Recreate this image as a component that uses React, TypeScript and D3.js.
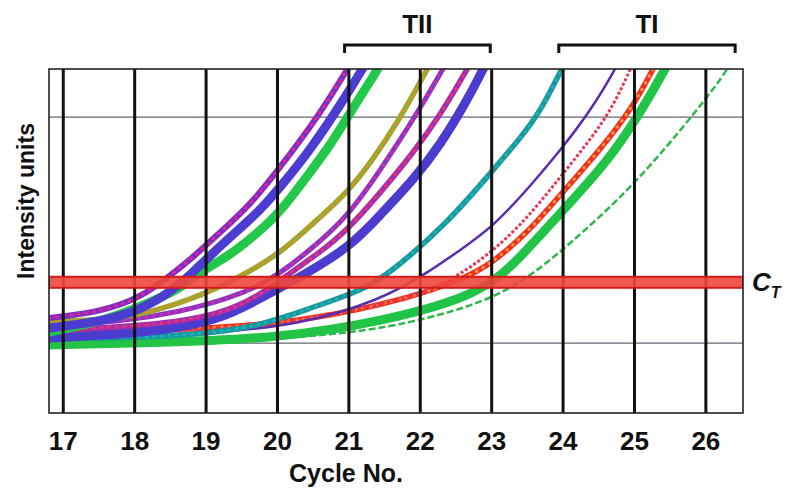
import React, { useRef, useEffect } from "react";
import * as d3 from "d3";

// cycle numbers on the x axis
const cycleTicks = [17, 18, 19, 20, 21, 22, 23, 24, 25, 26];

// horizontal reference lines and threshold (intensity units, 0-100)
const refLines = [20.3, 86];
const threshold = 38;

// amplification curves: [cycle, intensity]
const curveA = [[16.8, 27.6], [17.52, 29.4], [18.08, 33.4], [18.54, 40.7], [18.82, 45.3], [19.2, 52.6], [19.62, 60.5], [20.04, 71.5], [20.46, 83.1], [20.74, 91.9], [20.98, 100], [21.1, 104]];
const curveB = [[16.8, 24.7], [17.52, 26.5], [18.08, 29.9], [18.5, 35.2], [18.78, 40.1], [19.06, 45.9], [19.48, 53.8], [19.76, 59.0], [20.04, 65.7], [20.46, 76.5], [20.88, 89.5], [21.19, 100], [21.3, 104]];
const curveC = [[16.8, 23.5], [17.52, 26.5], [18.08, 31.0], [18.64, 36.0], [18.88, 40.7], [19.3, 45.3], [19.72, 52.3], [20.04, 58.4], [20.46, 70.1], [20.74, 77.9], [20.98, 86.0], [21.2, 93.3], [21.41, 100], [21.5, 104]];
const curveD = [[16.8, 26.5], [17.52, 27.0], [18.08, 28.5], [18.78, 32.8], [19.48, 39.5], [20.04, 46.5], [20.46, 54.4], [20.98, 64.0], [21.33, 73.5], [21.68, 84.3], [22.1, 100], [22.2, 104]];
const curveE = [[16.8, 25.6], [17.8, 26.5], [18.64, 29.4], [19.34, 33.4], [19.76, 37.2], [20.04, 40.7], [20.46, 47.4], [20.98, 57.0], [21.44, 70.6], [21.9, 85.2], [22.32, 100], [22.42, 104]];
const curveF = [[16.8, 24.1], [18.22, 25.3], [19.2, 28.5], [19.76, 34.3], [20.18, 40.7], [20.6, 46.8], [20.98, 53.2], [21.44, 64.0], [21.9, 75.6], [22.28, 86.6], [22.66, 100], [22.76, 104]];
const curveG = [[16.8, 21.8], [18.22, 23.3], [19.2, 27.0], [19.76, 33.4], [20.32, 39.5], [21.02, 48.3], [21.44, 57.6], [21.9, 67.7], [22.28, 77.9], [22.66, 91.0], [22.88, 100], [22.98, 104]];
const curveH = [[16.8, 21.8], [18.22, 21.8], [19.62, 24.1], [20.5, 30.8], [21.2, 35.8], [21.58, 40.7], [22.38, 55.2], [23.02, 70.6], [23.4, 79.9], [23.68, 87.5], [23.98, 100], [24.08, 104]];
const curveI = [[16.8, 22.7], [18.92, 22.7], [20.32, 25.6], [21.44, 32.8], [22.1, 40.7], [22.56, 47.4], [23.02, 54.1], [23.58, 66.9], [24.0, 77.3], [24.42, 89.0], [24.73, 100], [24.83, 104]];
const curveJ = [[16.8, 24.1], [18.92, 23.3], [20.32, 27.0], [21.44, 31.4], [22.28, 36.3], [23.02, 46.8], [23.54, 57.6], [23.96, 68.6], [24.38, 79.4], [24.7, 89.0], [24.94, 100], [25.04, 104]];
const curveK = [[16.8, 24.1], [18.92, 24.1], [20.5, 27.0], [21.9, 33.7], [22.56, 38.7], [22.98, 43.0], [23.54, 53.2], [23.96, 63.4], [24.52, 76.5], [24.98, 89.0], [25.26, 100], [25.36, 104]];
const curveL = [[16.8, 19.8], [18.22, 20.3], [20.04, 21.8], [21.44, 26.5], [22.84, 34.3], [23.4, 45.1], [23.96, 58.1], [24.61, 72.7], [25.08, 87.2], [25.43, 100], [25.53, 104]];
const curveM = [[16.8, 20.6], [18.92, 20.6], [21.02, 22.7], [22.14, 27.6], [22.84, 32.0], [23.44, 38.1], [24.05, 48.3], [24.98, 65.7], [25.92, 89.0], [26.31, 100], [26.41, 104]];

// group brackets above the plot
const groups = [
  { label: "TII", from: 20.94, to: 22.98 },
  { label: "TI", from: 23.94, to: 26.41 },
];

const curves = [
  { data: curveM, color: "#2fb84a", width: 2.5, dash: "7,3" },
  { data: curveL, color: "#22c447", width: 9 },
  { data: curveK, color: "#f0301e", width: 5.5, dot: "#ff9a3a" },
  { data: curveJ, color: "#e63a52", width: 3, dash: "3,2" },
  { data: curveI, color: "#5b2cb0", width: 2.5 },
  { data: curveH, color: "#179a9c", width: 5.5, dot: "#1fb0c0" },
  { data: curveG, color: "#4a3ccf", width: 9 },
  { data: curveF, color: "#a32eb0", width: 5.5, dot: "#f0306a" },
  { data: curveE, color: "#8a34c4", width: 5, dot: "#e02aa0" },
  { data: curveD, color: "#9aa82c", width: 5.5, dot: "#d8902a" },
  { data: curveC, color: "#22c84a", width: 9 },
  { data: curveB, color: "#4b3dd2", width: 9 },
  { data: curveA, color: "#7e2fc2", width: 6, dot: "#e4209a" },
];

const App = () => {
  const svgRef = useRef(null);
  const width = 788;
  const height = 495;
  const margin = { top: 69, right: 45, bottom: 82, left: 49 };
  const font = "'Liberation Sans', Arial, sans-serif";

  useEffect(() => {
    const svg = d3.select(svgRef.current);
    const x0 = margin.left;
    const x1 = width - margin.right;
    const y0 = margin.top;
    const y1 = height - margin.bottom;

    const x = d3.scaleLinear().domain([16.8, 26.52]).range([x0, x1]);
    const y = d3.scaleLinear().domain([0, 100]).range([y1, y0]);

    svg.append("rect").attr("width", width).attr("height", height).attr("fill", "#fff");

    svg
      .append("clipPath")
      .attr("id", "plot-clip")
      .append("rect")
      .attr("x", x0)
      .attr("y", y0)
      .attr("width", x1 - x0)
      .attr("height", y1 - y0);

    const plot = svg.append("g").attr("clip-path", "url(#plot-clip)");

    plot
      .selectAll(".ref")
      .data(refLines)
      .enter()
      .append("line")
      .attr("x1", x0)
      .attr("x2", x1)
      .attr("y1", (d) => y(d))
      .attr("y2", (d) => y(d))
      .attr("stroke", "#606870")
      .attr("stroke-width", 1.4);

    const line = d3
      .line()
      .x((d) => x(d[0]))
      .y((d) => y(d[1]))
      .curve(d3.curveBasis);

    curves.forEach((c) => {
      plot
        .append("path")
        .datum(c.data)
        .attr("fill", "none")
        .attr("stroke", c.color)
        .attr("stroke-width", c.width)
        .attr("stroke-dasharray", c.dash || null)
        .attr("d", line);
      if (c.dot) {
        plot
          .append("path")
          .datum(c.data)
          .attr("fill", "none")
          .attr("stroke", c.dot)
          .attr("stroke-width", c.width * 0.55)
          .attr("stroke-linecap", "round")
          .attr("stroke-dasharray", "0.5,7")
          .attr("d", line);
      }
    });

    plot
      .selectAll(".vgrid")
      .data(cycleTicks)
      .enter()
      .append("line")
      .attr("x1", (d) => x(d))
      .attr("x2", (d) => x(d))
      .attr("y1", y0)
      .attr("y2", y1)
      .attr("stroke", "#111")
      .attr("stroke-width", 3);

    // threshold band
    plot
      .append("rect")
      .attr("x", x0)
      .attr("width", x1 - x0)
      .attr("y", y(threshold + 1.6))
      .attr("height", y(threshold - 1.6) - y(threshold + 1.6))
      .attr("fill", "#f0463c")
      .attr("fill-opacity", 0.9)
      .attr("stroke", "#d21c18")
      .attr("stroke-width", 2);

    svg
      .append("rect")
      .attr("x", x0)
      .attr("y", y0)
      .attr("width", x1 - x0)
      .attr("height", y1 - y0)
      .attr("fill", "none")
      .attr("stroke", "#222")
      .attr("stroke-width", 1.6);

    svg
      .selectAll(".tick-label")
      .data(cycleTicks)
      .enter()
      .append("text")
      .attr("x", (d) => x(d))
      .attr("y", y1 + 37)
      .attr("text-anchor", "middle")
      .style("font-family", font)
      .style("font-weight", "bold")
      .style("font-size", "26px")
      .style("fill", "#111")
      .text((d) => d);

    svg
      .append("text")
      .attr("x", 346)
      .attr("y", 482)
      .attr("text-anchor", "middle")
      .style("font-family", font)
      .style("font-weight", "bold")
      .style("font-size", "25px")
      .style("fill", "#111")
      .text("Cycle No.");

    svg
      .append("text")
      .attr("transform", `translate(34, 201) rotate(-90)`)
      .attr("text-anchor", "middle")
      .style("font-family", font)
      .style("font-weight", "bold")
      .style("font-size", "23px")
      .style("fill", "#111")
      .text("Intensity units");

    const ct = svg
      .append("text")
      .attr("x", x1 + 9)
      .attr("y", y(threshold) + 9)
      .style("font-family", font)
      .style("font-weight", "bold")
      .style("font-style", "italic")
      .style("font-size", "26px")
      .style("fill", "#111");
    ct.append("tspan").text("C");
    ct.append("tspan").attr("dy", 7).style("font-size", "16px").text("T");

    groups.forEach((g) => {
      const bx0 = x(g.from);
      const bx1 = x(g.to);
      svg
        .append("path")
        .attr("d", `M${bx0},53 V45 H${bx1} V53`)
        .attr("fill", "none")
        .attr("stroke", "#111")
        .attr("stroke-width", 3);
      svg
        .append("text")
        .attr("x", (bx0 + bx1) / 2)
        .attr("y", 33)
        .attr("text-anchor", "middle")
        .style("font-family", font)
        .style("font-weight", "bold")
        .style("font-size", "26px")
        .style("fill", "#111")
        .text(g.label);
    });

    return () => svg.selectAll("*").remove();
  }, []);

  return (
    <svg
      ref={svgRef}
      width={width}
      height={height}
      style={{ position: "absolute", left: 0, top: 0 }}
    ></svg>
  );
};

export default App;
